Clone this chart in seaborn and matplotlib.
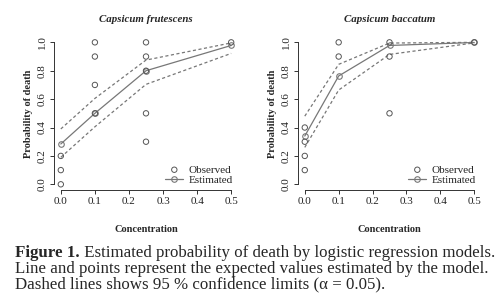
import numpy as np
import pandas as pd
import matplotlib
matplotlib.use("Agg")
import matplotlib.pyplot as plt
import seaborn as sns

# observed proportions of dead larvae per concentration
frutObsX = [0.0, 0.0, 0.0, 0.1, 0.1, 0.1, 0.1, 0.25, 0.25, 0.25, 0.25, 0.25, 0.5]
frutObsY = [0.0, 0.1, 0.2, 0.5, 0.7, 0.9, 1.0, 0.3, 0.5, 0.8, 0.9, 1.0, 1.0]
baccObsX = [0.0, 0.0, 0.0, 0.0, 0.1, 0.1, 0.25, 0.25, 0.25, 0.5]
baccObsY = [0.1, 0.2, 0.3, 0.4, 0.9, 1.0, 0.5, 0.9, 1.0, 1.0]

# model estimates and 95% limits
conc = [0.0, 0.1, 0.25, 0.5]
frutEst = [0.284, 0.50, 0.80, 0.978]
frutUpper = [0.39, 0.605, 0.875, 0.996]
frutLower = [0.19, 0.405, 0.704, 0.922]
baccEst = [0.34, 0.763, 0.978, 0.999]
baccUpper = [0.48, 0.845, 0.995, 1.0]
baccLower = [0.26, 0.664, 0.915, 0.996]

titles = ["Capsicum frutescens", "Capsicum baccatum"]
xTicks = [0.0, 0.1, 0.2, 0.3, 0.4, 0.5]
yTicks = [0.0, 0.2, 0.4, 0.6, 0.8, 1.0]

sns.set_style("ticks")
plt.rcParams['font.family'] = ['Liberation Serif', 'DejaVu Serif']

fig = plt.figure(figsize=(5.0, 3.03), dpi=100)
axL = fig.add_axes([0.108, 0.373, 0.368, 0.506])
axR = fig.add_axes([0.596, 0.373, 0.366, 0.506])

grey = "#777777"
panels = [
    (axL, frutObsX, frutObsY, frutEst, frutUpper, frutLower),
    (axR, baccObsX, baccObsY, baccEst, baccUpper, baccLower),
]
for i, (ax, ox, oy, est, up, lo) in enumerate(panels):
    obsDF = pd.DataFrame({"x": ox, "y": oy})
    fitDF = pd.DataFrame({"x": conc, "est": est, "up": up, "lo": lo})
    sns.scatterplot(data=obsDF, x="x", y="y", ax=ax, marker="o", s=15,
                    facecolor="none", edgecolor="#555555", linewidth=0.7,
                    label="Observed", zorder=3)
    sns.lineplot(data=fitDF, x="x", y="est", ax=ax, color=grey, lw=0.9,
                 marker="o", markersize=4, markerfacecolor="none",
                 markeredgecolor=grey, markeredgewidth=0.8, label="Estimated")
    sns.lineplot(data=fitDF, x="x", y="up", ax=ax, color=grey, lw=0.9,
                 linestyle=(0, (2.5, 2)), legend=False)
    sns.lineplot(data=fitDF, x="x", y="lo", ax=ax, color=grey, lw=0.9,
                 linestyle=(0, (2.5, 2)), legend=False)

    ax.set_xlim(-0.02, 0.52)
    ax.set_ylim(-0.04, 1.04)
    ax.set_xticks(xTicks)
    ax.set_xticklabels(["%.1f" % v for v in xTicks])
    ax.set_yticks(yTicks)
    ax.set_yticklabels(["%.1f" % v for v in yTicks], rotation=90, va="center")
    ax.tick_params(labelsize=8, length=3, width=0.7, color="#333333",
                   labelcolor="#222222", pad=2)
    sns.despine(ax=ax)
    ax.spines["left"].set_bounds(0, 1)
    ax.spines["bottom"].set_bounds(0, 0.5)
    for s in ["left", "bottom"]:
        ax.spines[s].set_linewidth(0.7)
        ax.spines[s].set_color("#333333")
    ax.set_title(titles[i], fontsize=7.8, fontweight="bold", fontstyle="italic", pad=10.5)
    ax.set_xlabel("Concentration", fontsize=7.5, fontweight="bold", labelpad=14)
    ax.set_ylabel("Probability of death", fontsize=7.5, fontweight="bold", labelpad=3.5)
    ax.legend(loc="lower right", frameon=False, fontsize=8, handlelength=1.6,
              handletextpad=0.5, labelspacing=0.05, borderaxespad=0.05)

capSize = 12.2
t1 = fig.text(0.03, 0.151, "Figure 1.", fontsize=capSize, fontweight="bold", va="baseline")
axL.annotate(" Estimated probability of death by logistic regression models.",
             xy=(1, 0), xycoords=t1, va="bottom", ha="left", fontsize=capSize,
             annotation_clip=False)
fig.text(0.03, 0.100, "Line and points represent the expected values estimated by the model.",
         fontsize=capSize, va="baseline")
fig.text(0.03, 0.049, "Dashed lines shows 95 % confidence limits (\u03b1 = 0.05).",
         fontsize=capSize, va="baseline")

fig.savefig("out.png", dpi=100)
